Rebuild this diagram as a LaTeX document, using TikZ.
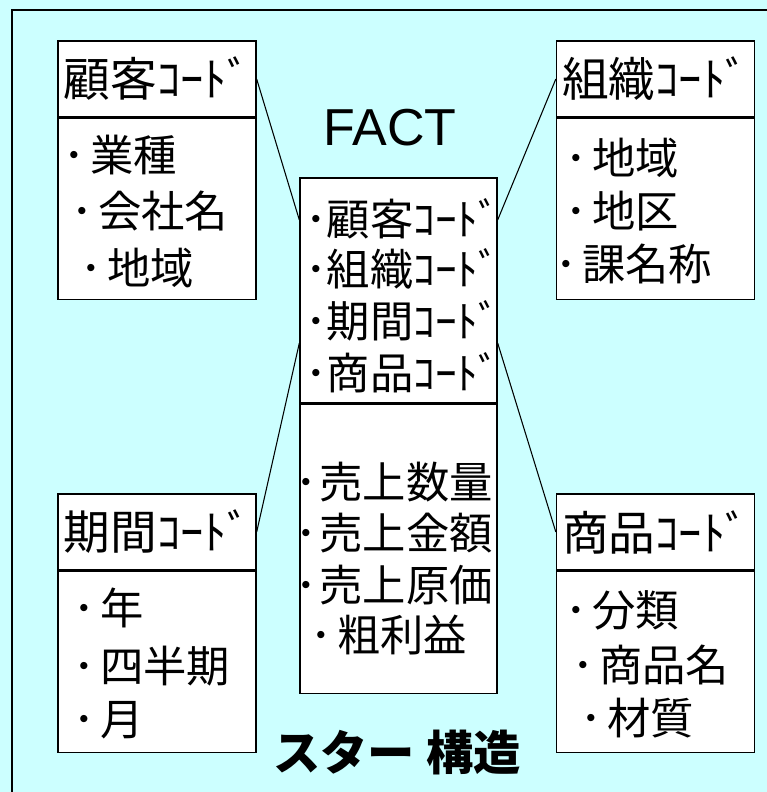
\documentclass[tikz,border=0pt]{standalone}
\usepackage{fontspec}
\usepackage{tikz}
\newfontfamily\jp{Noto Sans CJK JP}
\newfontfamily\lat{Liberation Sans}
\definecolor{bgcyan}{RGB}{204,255,255}
\newcommand{\bul}{･\kern4pt}

\begin{document}
\begin{tikzpicture}[x=0.75pt,y=-0.75pt,
	every node/.style={inner sep=0pt,font=\jp\fontsize{32.5}{36}\selectfont},
	head/.style={draw,fill=white,line width=1pt,minimum width=148.5pt,minimum height=57pt,font=\jp\fontsize{35}{40}\selectfont},
	body/.style={draw,fill=white,line width=1pt,minimum width=148.5pt,minimum height=135.75pt,anchor=north},
	item/.style={anchor=west},
	link/.style={line width=0.8pt}]
	\useasboundingbox (0,0) rectangle (767,792);
	\clip (0,0) rectangle (767,792);
	\fill[bgcyan] (0,0) rectangle (767,792);
	\draw[line width=1.6pt] (12,800) -- (12,10) -- (800,10);
	% dimension tables
	\node[head] (kokyaku) at (157,79) {顧客ｺｰﾄﾞ};
	\node[body] (kokyakuB) at (kokyaku.south) {};
	\node[head] (soshiki) at (655.5,79) {組織ｺｰﾄﾞ};
	\node[body] (soshikiB) at (soshiki.south) {};
	\node[head] (kikan) at (157,532) {期間ｺｰﾄﾞ};
	\node[body] (kikanB) at (kikan.south) {};
	\node[head] (shohin) at (655.5,532) {商品ｺｰﾄﾞ};
	\node[body] (shohinB) at (shohin.south) {};
	% fact table
	\node[draw,fill=white,line width=1pt,minimum width=147.75pt,minimum height=168.75pt] (factkeys) at (398.5,290.5) {};
	\node[draw,fill=white,line width=1pt,minimum width=147.75pt,minimum height=216.75pt,anchor=north] (factvals) at (factkeys.south) {};
	\node[font=\lat\fontsize{39}{44}\selectfont] (factlbl) at (390,128) {FACT};
	% items
	\node[item] (k1) at (63,155) {\bul 業種};
	\node[item] (k2) at (71,211) {\bul 会社名};
	\node[item] (k3) at (80,268) {\bul 地域};
	\node[item] (s1) at (565,158) {\bul 地域};
	\node[item] (s2) at (565,211) {\bul 地区};
	\node[item] (s3) at (555,264) {\bul 課名称};
	\node[item] (t1) at (73,608) {\bul 年};
	\node[item] (t2) at (73,666) {\bul 四半期};
	\node[item] (t3) at (73,720) {\bul 月};
	\node[item] (p1) at (565,610) {\bul 分類};
	\node[item] (p2) at (572,665) {\bul 商品名};
	\node[item] (p3) at (580,718) {\bul 材質};
	\node[item] (fk1) at (305,219) {･顧客ｺｰﾄﾞ};
	\node[item] (fk2) at (305,269) {･組織ｺｰﾄﾞ};
	\node[item] (fk3) at (305,321) {･期間ｺｰﾄﾞ};
	\node[item] (fk4) at (305,373) {･商品ｺｰﾄﾞ};
	\node[item] (fv1) at (295,482) {･\kern2pt 売上数量};
	\node[item] (fv2) at (295,533) {･\kern2pt 売上金額};
	\node[item] (fv3) at (295,585) {･\kern2pt 売上原価};
	\node[item] (fv4) at (310,635) {\bul 粗利益};
	% links
	\draw[link] (kokyaku.east) -- ([yshift=52.9pt]factkeys.west);
	\draw[link] (soshiki.west) -- ([yshift=52.9pt]factkeys.east);
	\draw[link] (kikan.east) -- ([yshift=-39.4pt]factkeys.west);
	\draw[link] (shohin.west) -- ([yshift=-39.4pt]factkeys.east);
	\node[font=\jp\bfseries\fontsize{35.5}{40}\selectfont] (title) at (397,753) {スター 構造};
\end{tikzpicture}
\end{document}
